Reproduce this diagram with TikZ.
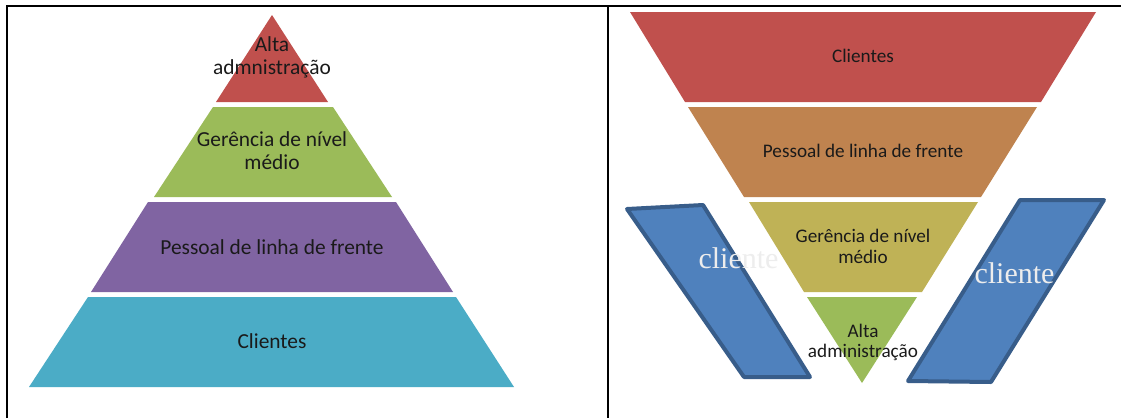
\documentclass[tikz,border=0pt]{standalone}
\usepackage{fontspec}
\setmainfont{Carlito}
\newfontfamily\timesf{Liberation Serif}
\definecolor{cred}{HTML}{C0504D}
\definecolor{cgreen}{HTML}{9BBB59}
\definecolor{cpurple}{HTML}{8064A2}
\definecolor{ccyan}{HTML}{4BACC6}
\definecolor{corange}{HTML}{BF834F}
\definecolor{colive}{HTML}{BFB256}
\definecolor{cblue}{HTML}{4F81BD}
\definecolor{cblueline}{HTML}{385D8A}
\definecolor{ctext}{HTML}{1A1A1A}
\tikzset{
  frameline/.style={draw=black, line width=2pt},
  band/.style={draw=none},
  lbl/.style={anchor=base, inner sep=0pt, text=ctext, font=\fontsize{21.4}{23}\selectfont},
  rlbl/.style={anchor=base, inner sep=0pt, text=ctext, font=\fontsize{19.2}{21}\selectfont},
  parbox/.style={fill=cblue, draw=cblueline, line width=4pt, line join=round},
  clbl/.style={anchor=base, inner sep=0pt, text=white!93!black, font=\timesf\fontsize{30}{32}\selectfont}
}
\begin{document}
\begin{tikzpicture}[x=1pt,y=-1pt]
\useasboundingbox (0,0) rectangle (1121,418);
\fill[white] (0,0) rectangle (1121,418);
% frame
\coordinate (ftl) at (7,6);
\coordinate (ftr) at (1121,6);
\coordinate (fbl) at (7,418);
\coordinate (fdt) at (607.5,6);
\coordinate (fdb) at (607.5,418);
\draw[frameline] (fbl) -- (ftl) -- (ftr);
\draw[frameline] (fdt) -- (fdb);
% left pyramid
\fill[cred, band] (272,15) -- (328,102) -- (216,102) -- cycle;
\fill[cgreen, band] (213,107) -- (333,107) -- (392,197) -- (154,197) -- cycle;
\fill[cpurple, band] (148,202) -- (396,202) -- (453,292) -- (91,292) -- cycle;
\fill[ccyan, band] (88,297) -- (456,297) -- (514,387) -- (29,387) -- cycle;
\node[lbl] (la1) at (272,51.7) {Alta};
\node[lbl] (la2) at (272,74) {admnistração};
\node[lbl] (lg1) at (272,146.7) {Gerência de nível};
\node[lbl] (lg2) at (272,169) {médio};
\node[lbl] (lp) at (272,254) {Pessoal de linha de frente};
\node[lbl] (lc) at (272,348) {Clientes};
% right inverted pyramid
\fill[cred, band] (630,12) -- (1096,12) -- (1041,102) -- (685,102) -- cycle;
\fill[corange, band] (688,107) -- (1037,107) -- (981,197) -- (744,197) -- cycle;
\fill[colive, band] (749,202) -- (978,202) -- (922,292) -- (804,292) -- cycle;
\fill[cgreen, band] (807,297) -- (917,297) -- (862,383) -- cycle;
\node[rlbl] (rc) at (863,62) {Clientes};
\node[rlbl] (rp) at (863,157) {Pessoal de linha de frente};
\node[rlbl] (rg1) at (863,242) {Gerência de nível};
\node[rlbl] (rg2) at (863,263) {médio};
\node[rlbl] (ra1) at (863,337) {Alta};
\node[rlbl] (ra2) at (863,357) {administração};
% parallelograms
\path[parbox] (627,209) -- (703,205) -- (810,377) -- (744,377) -- cycle;
\path[parbox] (1020,200) -- (1104,200) -- (991,382) -- (908,381) -- cycle;
\node[clbl] (cl) at (738.5,268) {cliente};
\node[clbl] (cr) at (1014.5,283) {cliente};
\end{tikzpicture}
\end{document}
